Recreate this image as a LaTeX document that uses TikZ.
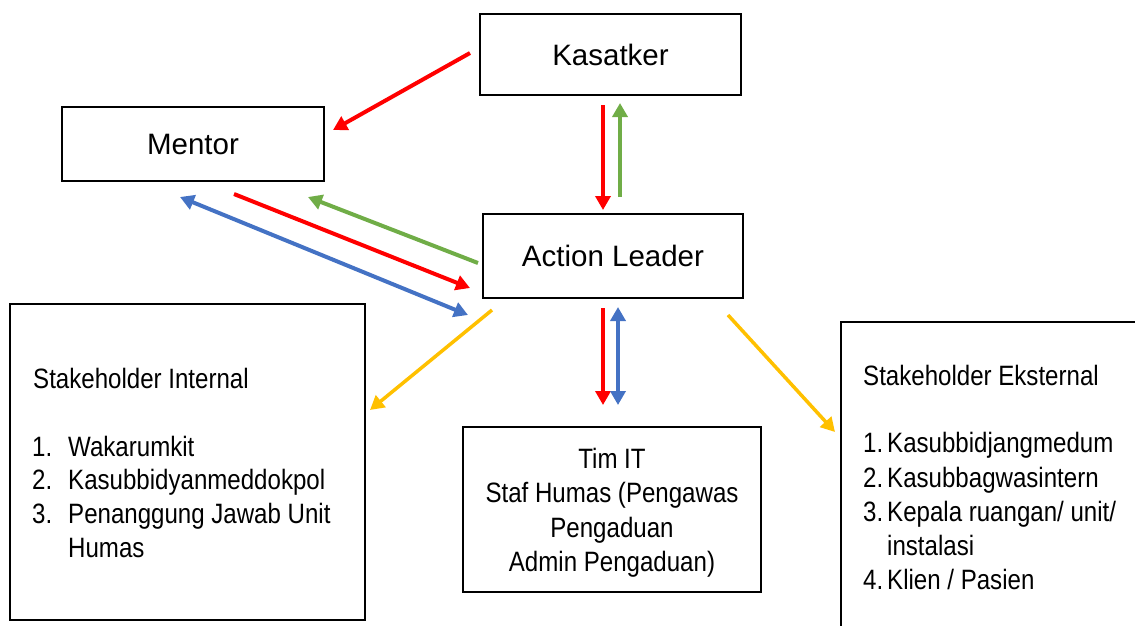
\documentclass[tikz,border=0pt]{standalone}
\usepackage{fontspec}
\setmainfont{Liberation Sans}
\newfontfamily\narrowfont[FakeStretch=0.86]{Liberation Sans}
\usetikzlibrary{arrows.meta}
\definecolor{cred}{HTML}{FF0000}
\definecolor{cgreen}{HTML}{70AD47}
\definecolor{cblue}{HTML}{4472C4}
\definecolor{cyellow}{HTML}{FFC000}
\begin{document}
\begin{tikzpicture}[x=1pt,y=-1pt,
  box/.style={draw, line width=2.5pt, inner sep=0pt, font=\fontsize{29.5}{34}\selectfont},
  con/.style={line width=4pt, -{Triangle[width=15pt,length=14pt]}},
  dcon/.style={line width=4pt, {Triangle[width=15pt,length=14pt]}-{Triangle[width=15pt,length=14pt]}},
  lst/.style={anchor=base west, inner sep=0pt, font=\narrowfont\fontsize{28}{34}\selectfont},
  ctr/.style={anchor=base, inner sep=0pt, font=\narrowfont\fontsize{28}{34}\selectfont}]
\useasboundingbox (0,0) rectangle (1135,625);

% boxes
\node[box, minimum width=261pt, minimum height=81pt] (kas) at (610.5,54.5) {Kasatker};
\node[box, minimum width=262pt, minimum height=74pt] (men) at (193,144) {Mentor};
\node[box, minimum width=260pt, minimum height=84pt] (al) at (613,256) {Action Leader};
\node[box, minimum width=355pt, minimum height=316pt] (si) at (187.5,462) {};
\node[box, minimum width=298pt, minimum height=165pt] (tim) at (612,509.5) {};
\node[box, minimum width=319pt, minimum height=328pt] (se) at (1000.5,486) {};

% Stakeholder Internal text
\node[lst] (si0) at (33,388) {Stakeholder Internal};
\node[lst] (si1n) at (32,456) {1.};
\node[lst] (si1) at (68,456) {Wakarumkit};
\node[lst] (si2n) at (32,489) {2.};
\node[lst] (si2) at (68,489) {Kasubbidyanmeddokpol};
\node[lst] (si3n) at (32,523) {3.};
\node[lst] (si3) at (68,523) {Penanggung Jawab Unit};
\node[lst] (si4) at (68,557) {Humas};

% Tim IT text
\node[ctr] (t1) at (612,468) {Tim IT};
\node[ctr] (t2) at (612,502) {Staf Humas (Pengawas};
\node[ctr] (t3) at (612,537) {Pengaduan};
\node[ctr] (t4) at (612,571) {Admin Pengaduan)};

% Stakeholder Eksternal text
\node[lst] (se0) at (863,385) {Stakeholder Eksternal};
\node[lst] (se1n) at (863,452) {1.};
\node[lst] (se1) at (887,452) {Kasubbidjangmedum};
\node[lst] (se2n) at (863,487) {2.};
\node[lst] (se2) at (887,487) {Kasubbagwasintern};
\node[lst] (se3n) at (863,521) {3.};
\node[lst] (se3) at (887,521) {Kepala ruangan/ unit/};
\node[lst] (se4) at (887,555) {instalasi};
\node[lst] (se5n) at (863,589) {4.};
\node[lst] (se5) at (887,589) {Klien / Pasien};

% connector end points
\coordinate (a1s) at (470,53);  \coordinate (a1e) at (333,130);
\coordinate (a2s) at (603,105); \coordinate (a2e) at (603,210);
\coordinate (a3s) at (620,197); \coordinate (a3e) at (620,103);
\coordinate (a4s) at (180,197); \coordinate (a4e) at (468,315);
\coordinate (a5s) at (234,194); \coordinate (a5e) at (470,288);
\coordinate (a6s) at (478,263); \coordinate (a6e) at (308,197);
\coordinate (a7s) at (492,310); \coordinate (a7e) at (370,410);
\coordinate (a8s) at (603,308); \coordinate (a8e) at (603,405);
\coordinate (a9s) at (618,307); \coordinate (a9e) at (618,405);
\coordinate (a10s) at (728,315); \coordinate (a10e) at (835,432);

\draw[con, cred] (a1s) -- (a1e);
\draw[con, cred] (a2s) -- (a2e);
\draw[con, cgreen] (a3s) -- (a3e);
\draw[dcon, cblue] (a4s) -- (a4e);
\draw[con, cred] (a5s) -- (a5e);
\draw[con, cgreen] (a6s) -- (a6e);
\draw[con, cyellow, line width=3.5pt] (a7s) -- (a7e);
\draw[con, cred] (a8s) -- (a8e);
\draw[dcon, cblue] (a9s) -- (a9e);
\draw[con, cyellow, line width=3.5pt] (a10s) -- (a10e);
\end{tikzpicture}
\end{document}
